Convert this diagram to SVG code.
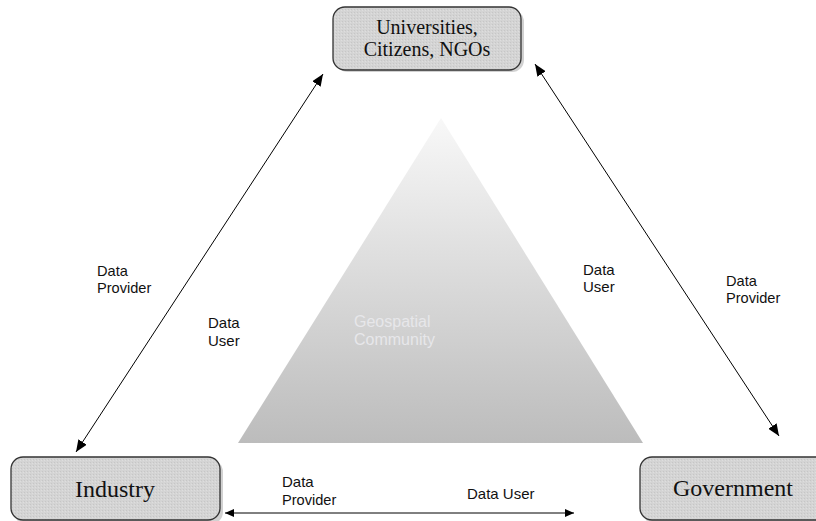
<svg xmlns="http://www.w3.org/2000/svg" width="816" height="521" viewBox="0 0 816 521">
  <defs>
    <linearGradient id="pyramidFill" x1="0" y1="0" x2="0" y2="1">
      <stop offset="0" stop-color="#f8f8f8"/>
      <stop offset="1" stop-color="#bcbcbc"/>
    </linearGradient>
    <pattern id="grain" width="3" height="3" patternUnits="userSpaceOnUse">
      <rect width="3" height="3" fill="#d4d4d4"/>
      <rect x="0" y="0" width="1" height="1" fill="#c6c6c6"/>
      <rect x="2" y="1" width="1" height="1" fill="#dedede"/>
    </pattern>
    <marker id="head" viewBox="0 0 12 10" refX="12" refY="5" markerWidth="12" markerHeight="10" markerUnits="userSpaceOnUse" orient="auto-start-reverse">
      <path d="M0,0 L12,5 L0,10 Z" fill="#000"/>
    </marker>
    <marker id="headSmall" viewBox="0 0 9 8" refX="9" refY="4" markerWidth="9" markerHeight="8" markerUnits="userSpaceOnUse" orient="auto-start-reverse">
      <path d="M0,0 L9,4 L0,8 Z" fill="#000"/>
    </marker>
  </defs>
  <style>
    .box { fill: url(#grain); stroke: #333; stroke-width: 1.3; }
    .shadow { fill: #9a9a9a; opacity: 0.45; }
    .name { font-family: "Liberation Serif", "DejaVu Serif", serif; fill: #111; text-anchor: middle; }
    .top { font-size: 20px; }
    .base { font-size: 24px; }
    .role { font-family: "Liberation Sans", Arial, sans-serif; font-size: 15px; fill: #111; }
    .role.sm { font-size: 14.6px; }
    .link { stroke: #000; stroke-width: 1; fill: none; }
    .core { font-family: "Liberation Sans", Arial, sans-serif; font-size: 16px; fill: #e7e7ea; }
  </style>

  <rect width="816" height="521" fill="#fff"/>

  <!-- central pyramid -->
  <g id="geospatial-community">
    <polygon points="441,118 238,443 643,443" fill="url(#pyramidFill)"/>
    <text class="core" x="354" y="327">Geospatial</text>
    <text class="core" x="354" y="345">Community</text>
  </g>

  <!-- connectors between the three sectors -->
  <g id="connectors">
    <line class="link" x1="76" y1="452" x2="323" y2="74" marker-start="url(#head)" marker-end="url(#head)"/>
    <line class="link" x1="535" y1="64" x2="779" y2="436" marker-start="url(#head)" marker-end="url(#head)"/>
    <line class="link" x1="225" y1="513" x2="574" y2="513" marker-start="url(#headSmall)" marker-end="url(#headSmall)"/>
    <text class="role sm" x="97" y="276">Data</text>
    <text class="role sm" x="97" y="293">Provider</text>
    <text class="role" x="208" y="328">Data</text>
    <text class="role" x="208" y="346">User</text>
    <text class="role" x="583" y="275">Data</text>
    <text class="role" x="583" y="292">User</text>
    <text class="role sm" x="726" y="286">Data</text>
    <text class="role sm" x="726" y="303">Provider</text>
    <text class="role" x="282" y="487">Data</text>
    <text class="role sm" x="282" y="505">Provider</text>
    <text class="role" x="467" y="499">Data User</text>
  </g>

  <!-- sector boxes -->
  <g id="universities">
    <rect class="shadow" x="336" y="10" width="188" height="62" rx="12"/>
    <rect class="box" x="333" y="7" width="188" height="63" rx="12"/>
    <text class="name top" x="427" y="34">Universities,</text>
    <text class="name top" x="427" y="56">Citizens, NGOs</text>
  </g>
  <g id="industry">
    <rect class="shadow" x="14" y="460" width="209" height="64" rx="12"/>
    <rect class="box" x="11" y="457" width="209" height="63" rx="12"/>
    <text class="name base" x="115" y="497">Industry</text>
  </g>
  <g id="government">
    <rect class="shadow" x="643" y="460" width="190" height="64" rx="12"/>
    <rect class="box" x="640" y="457" width="190" height="63" rx="12"/>
    <text class="name base" x="733" y="496">Government</text>
  </g>
</svg>
